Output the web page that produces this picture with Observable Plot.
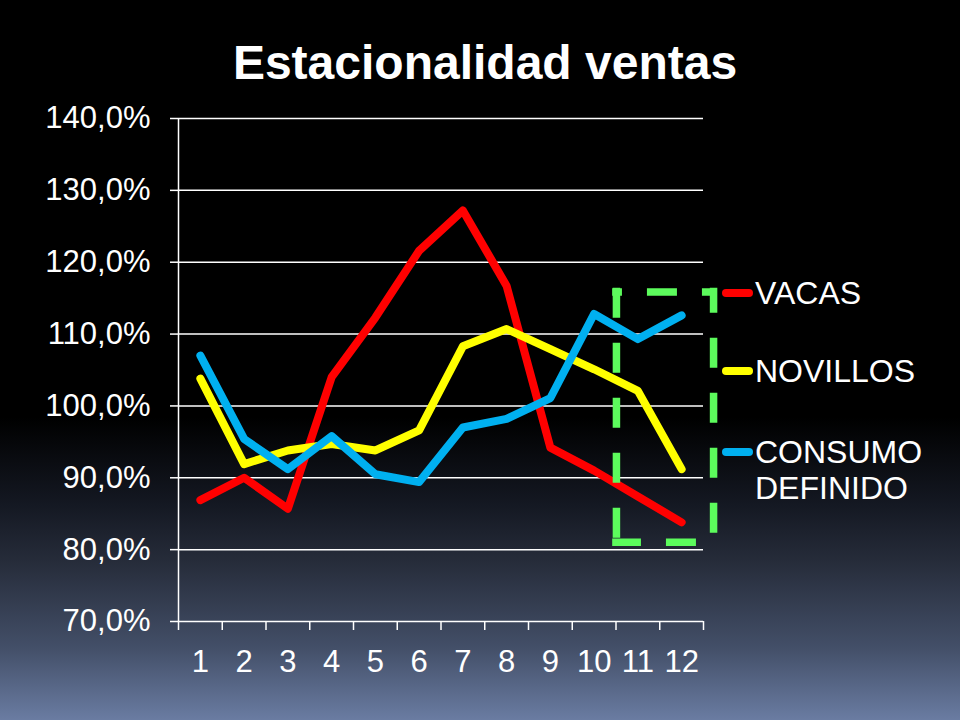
<!DOCTYPE html>
<html>
<head>
<meta charset="utf-8">
<script src="https://cdn.jsdelivr.net/npm/d3@7"></script>
<script src="https://cdn.jsdelivr.net/npm/@observablehq/plot@0.6"></script>
<style>
html,body{margin:0;padding:0;background:#000;}
#wrap{position:relative;width:960px;height:720px;overflow:hidden;
  background:linear-gradient(to bottom,#000 0%,#000 58%,#141822 70%,#262c3a 78%,#434f68 90%,#6a7ca2 100%);
  font-family:"Liberation Sans",Arial,sans-serif;color:#fff;}
#title{position:absolute;left:5px;top:39px;width:960px;text-align:center;font-size:48px;font-weight:bold;line-height:48px;}
#chart{position:absolute;left:0;top:0;}
.leg{position:absolute;left:722px;display:flex;align-items:flex-start;font-size:32px;line-height:36px;white-space:nowrap;}
.sw{width:31px;height:8px;border-radius:4px;margin-top:13.7px;margin-right:2px;flex:none;}
</style>
</head>
<body>
<div id="wrap">
  <div id="title">Estacionalidad ventas</div>
  <div id="chart"></div>
</div>
<script>
const months = [1, 2, 3, 4, 5, 6, 7, 8, 9, 10, 11, 12];
const vacas    = [86.9, 90.0, 85.7, 104.0, 112.3, 121.6, 127.2, 116.7, 94.2, 91.0, 87.4, 83.8];
const novillos = [103.8, 91.9, 93.8, 94.7, 93.8, 96.6, 108.3, 110.7, 107.9, 105.1, 102.1, 91.2];
const consumo  = [107.0, 95.4, 91.2, 95.8, 90.5, 89.4, 97.0, 98.2, 101.1, 112.8, 109.3, 112.6];
const seriesNames  = ["VACAS", "NOVILLOS", "CONSUMO DEFINIDO"];
const legendLabels = [["VACAS"], ["NOVILLOS"], ["CONSUMO", "DEFINIDO"]];
const seriesColors = ["#FF0000", "#FFFF00", "#00B0F0"];
const yTicks = [70, 80, 90, 100, 110, 120, 130, 140];
// highlight box (x in month units, y in %)
const boxLeft = 10.51, boxRight = 12.73, boxTop = 115.87, boxBottom = 81.04;

const seriesValues = [vacas, novillos, consumo];
const data = seriesNames.flatMap((name, s) =>
  months.map((m, i) => ({serie: name, month: m, value: seriesValues[s][i]})));
const boundaries = months.map(m => m - 0.5).concat([months[months.length - 1] + 0.5]);

const dashStyle = {stroke: "#5CFB5C", strokeWidth: 7.5, strokeDasharray: "22.5,32.5", strokeLinecap: "square"};

const chart = Plot.plot({
  width: 960,
  height: 720,
  marginLeft: 178,
  marginRight: 257,
  marginTop: 118,
  marginBottom: 99,
  style: {background: "transparent", color: "#fff", fontFamily: "'Liberation Sans', Arial, sans-serif", fontSize: "31px", overflow: "visible"},
  x: {domain: [0.5, 12.5], label: null},
  y: {domain: [70, 140], label: null},
  color: {domain: seriesNames, range: seriesColors},
  marks: [
    Plot.gridY(yTicks, {stroke: "#fff", strokeOpacity: 1, strokeWidth: 1.5}),
    Plot.ruleX([0.5], {stroke: "#fff", strokeWidth: 1.5}),
    Plot.axisY({ticks: yTicks, tickSize: 8, tickPadding: 20, fontSize: 31, stroke: "#fff", strokeWidth: 1.5,
      tickFormat: d => d.toFixed(1).replace(".", ",") + "%"}),
    Plot.axisX({ticks: boundaries, tickSize: 9, tickFormat: () => "", stroke: "#fff", strokeWidth: 1.5}),
    Plot.axisX({ticks: months, tickSize: 0, tickPadding: 28, fontSize: 31, tickFormat: d => String(d)}),
    Plot.line(data, {x: "month", y: "value", stroke: "serie", z: "serie", strokeWidth: 8,
      strokeLinejoin: "round", strokeLinecap: "round"}),
    // dashed highlight box, one side at a time
    Plot.ruleY([boxTop], {x1: boxLeft, x2: boxRight, ...dashStyle, strokeDashoffset: 20.25}),
    Plot.ruleY([boxBottom], {x1: boxLeft, x2: boxRight, ...dashStyle, strokeDashoffset: 1.25}),
    Plot.ruleX([boxLeft], {y1: boxTop, y2: boxBottom, ...dashStyle, strokeDashoffset: 0}),
    Plot.ruleX([boxRight], {y1: boxTop, y2: boxBottom, ...dashStyle, strokeDashoffset: 5})
  ]
});
document.getElementById("chart").appendChild(chart);

// legend
const legendTops = [274.9, 353.2, 434];
const wrap = document.getElementById("wrap");
seriesNames.forEach((name, i) => {
  const row = document.createElement("div");
  row.className = "leg";
  row.style.top = legendTops[i] + "px";
  const sw = document.createElement("div");
  sw.className = "sw";
  sw.style.background = seriesColors[i];
  const txt = document.createElement("div");
  txt.innerHTML = legendLabels[i].join("<br>");
  row.appendChild(sw);
  row.appendChild(txt);
  wrap.appendChild(row);
});
</script>
</body>
</html>
